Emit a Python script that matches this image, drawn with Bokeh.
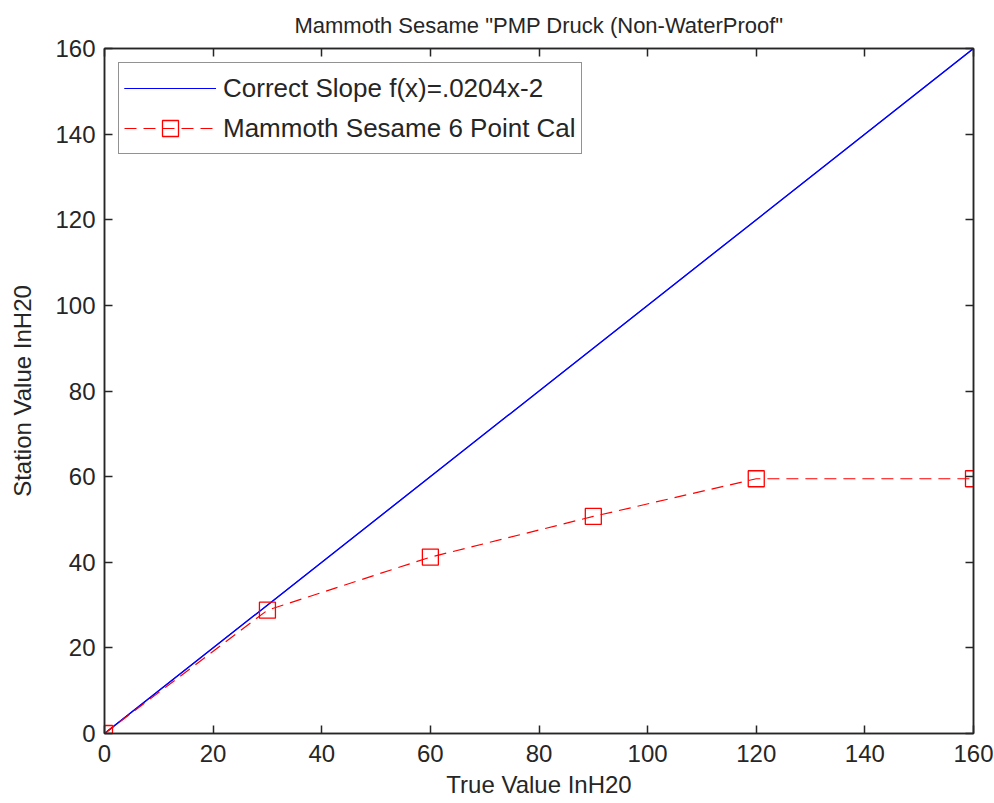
from bokeh.plotting import figure
from bokeh.models import LinearAxis, Range1d, FixedTicker, Legend, LegendItem
from bokeh.embed import file_html
from bokeh.resources import INLINE

title = 'Mammoth Sesame "PMP Druck (Non-WaterProof"'
x_label = "True Value InH20"
y_label = "Station Value InH20"
ticks = [0, 20, 40, 60, 80, 100, 120, 140, 160]

slope_x = [0, 160]
slope_y = [0, 160]
slope_label = "Correct Slope f(x)=.0204x-2"

cal_x = [0, 30, 60, 90, 120, 160]
cal_y = [0, 28.8, 41.2, 50.7, 59.5, 59.5]
cal_label = "Mammoth Sesame 6 Point Cal"

FONT = "Liberation Sans"
TXT = "#262626"

p = figure(width=994, height=803, output_backend="svg", toolbar_location=None,
           x_range=Range1d(0, 160), y_range=Range1d(0, 160),
           min_border_left=104, min_border_right=21, min_border_top=48, min_border_bottom=70,
           x_axis_location=None, y_axis_location=None)
p.background_fill_color = "white"
p.border_fill_color = "white"
p.xgrid.visible = False
p.ygrid.visible = False
p.outline_line_color = TXT
p.outline_line_width = 1.5

p.title.text = title
p.title.align = "center"
p.title.vertical_align = "top"
p.title.text_font = FONT
p.title.text_font_size = "22px"
p.title.text_font_style = "normal"
p.title.text_color = TXT
p.title.offset = 0
p.title.standoff = 18

def make_axis(loc, labels=True, axis_label=None, label_standoff=8, title_standoff=0):
    ax = LinearAxis(ticker=FixedTicker(ticks=ticks))
    ax.major_tick_in = 8
    ax.major_tick_out = 0
    ax.minor_tick_in = 0
    ax.minor_tick_out = 0
    ax.axis_line_color = TXT
    ax.axis_line_width = 1.5
    ax.major_tick_line_color = TXT
    ax.major_tick_line_width = 1.5
    ax.major_label_text_font = FONT
    ax.major_label_text_font_size = "24px"
    ax.major_label_text_color = TXT
    ax.major_label_standoff = label_standoff
    if not labels:
        ax.major_label_text_alpha = 0
        ax.major_label_text_font_size = "1px"
        ax.major_label_standoff = 0
    if axis_label:
        ax.axis_label = axis_label
        ax.axis_label_text_font = FONT
        ax.axis_label_text_font_size = "24px"
        ax.axis_label_text_font_style = "normal"
        ax.axis_label_text_color = TXT
        ax.axis_label_standoff = title_standoff
    p.add_layout(ax, loc)
    return ax

make_axis("below", True, x_label, label_standoff=11, title_standoff=6)
make_axis("left", True, y_label, label_standoff=9, title_standoff=16)
make_axis("above", False)
make_axis("right", False)

r1 = p.line(slope_x, slope_y, line_color="#0000ff", line_width=1.2)
r1b = p.line(slope_x, slope_y, line_color="#0000ff", line_width=1.2)
r2 = p.line(cal_x, cal_y, line_color="#ff0000", line_width=1.2, line_dash="12 7")
r3 = p.scatter(cal_x, cal_y, marker="square", size=16, fill_color=None,
               line_color="#ff0000", line_width=1.3)

legend = Legend(items=[LegendItem(label=slope_label, renderers=[r1, r1b]),
                       LegendItem(label=cal_label, renderers=[r2, r3])],
                location="top_left")
legend.label_text_font = FONT
legend.label_text_font_size = "26px"
legend.label_text_color = TXT
legend.border_line_color = TXT
legend.border_line_width = 1.5
legend.glyph_width = 92
legend.glyph_height = 40
legend.spacing = -1
legend.padding = 5
legend.margin = 14
legend.label_standoff = 7
p.add_layout(legend)

open("out.html", "w").write(file_html(p, INLINE))
